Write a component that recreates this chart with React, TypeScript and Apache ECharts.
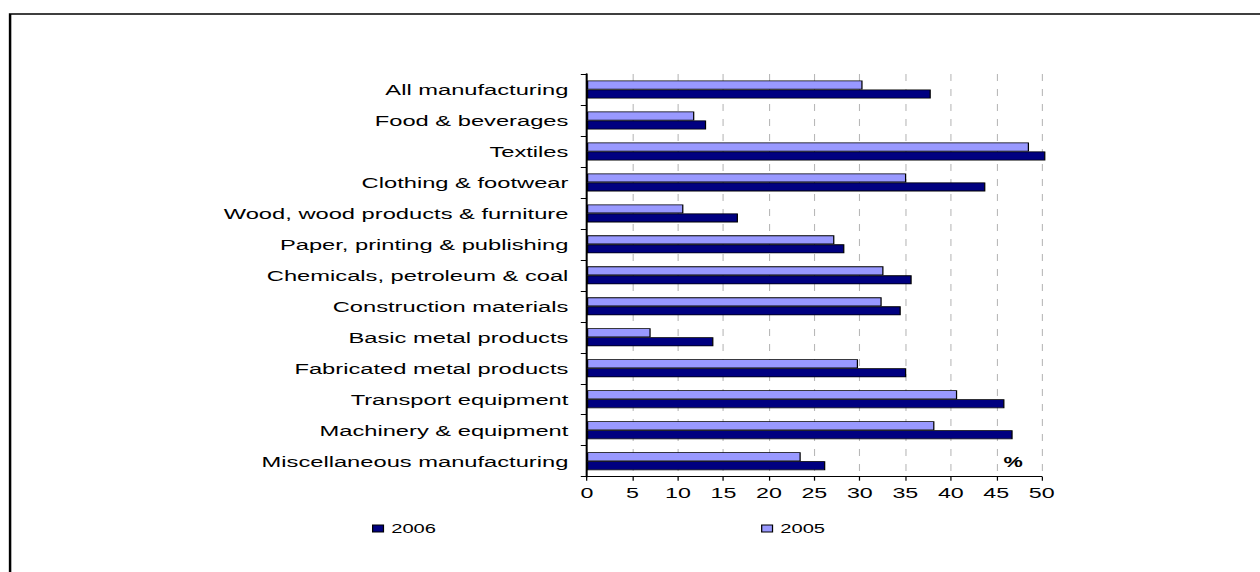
import React, { useEffect, useRef } from "react";
import * as echarts from "echarts";

const categories = [
  "All manufacturing",
  "Food & beverages",
  "Textiles",
  "Clothing & footwear",
  "Wood, wood products & furniture",
  "Paper, printing & publishing",
  "Chemicals, petroleum & coal",
  "Construction materials",
  "Basic metal products",
  "Fabricated metal products",
  "Transport equipment",
  "Machinery & equipment",
  "Miscellaneous manufacturing",
];

const values2005 = [30.3, 11.8, 48.6, 35.1, 10.6, 27.2, 32.6, 32.4, 7.0, 29.8, 40.7, 38.2, 23.5];
const values2006 = [37.8, 13.1, 50.4, 43.8, 16.6, 28.3, 35.7, 34.5, 13.9, 35.1, 45.9, 46.8, 26.2];

const STRETCH = 1.55;
const BASE_W = 1260 / STRETCH;
const FONT = "'Liberation Sans', Arial, sans-serif";

export default function App() {
  const ref = useRef<HTMLDivElement>(null);
  useEffect(() => {
    const chart = echarts.init(ref.current!, null, { renderer: "svg" });
    chart.setOption({
      animation: false,
      backgroundColor: "#ffffff",
      textStyle: { fontFamily: FONT },
      grid: { left: 378.7, top: 74, width: 293.4, height: 402.7, containLabel: false },
      legend: [
        {
          data: ["2006"],
          left: 235,
          top: 517,
          icon: "rect",
          itemWidth: 7,
          itemHeight: 7,
          selectedMode: false,
          itemStyle: { borderColor: "#000", borderWidth: 0.8 },
          textStyle: { fontSize: 13, color: "#000", fontFamily: FONT },
        },
        {
          data: ["2005"],
          left: 486,
          top: 517,
          icon: "rect",
          itemWidth: 7,
          itemHeight: 7,
          selectedMode: false,
          itemStyle: { borderColor: "#000", borderWidth: 0.8 },
          textStyle: { fontSize: 13, color: "#000", fontFamily: FONT },
        },
      ],
      xAxis: {
        type: "value",
        min: 0,
        max: 50,
        interval: 5,
        axisLine: { show: true, lineStyle: { color: "#000", width: 1 } },
        axisTick: { show: true, length: 4, lineStyle: { color: "#000", width: 0.8 } },
        splitLine: { show: true, lineStyle: { color: "#b8b8b8", width: 0.7, type: [7, 8] } },
        axisLabel: { fontSize: 15, color: "#000", margin: 8, fontFamily: FONT },
      },
      yAxis: {
        type: "category",
        data: categories,
        inverse: true,
        axisLine: { show: true, lineStyle: { color: "#000", width: 1.3 } },
        axisTick: { show: true, length: 4, lineStyle: { color: "#000", width: 1 } },
        axisLabel: { fontSize: 15.3, color: "#000", margin: 12, fontFamily: FONT },
      },
      series: [
        {
          name: "2005",
          type: "bar",
          data: values2005,
          barWidth: 9,
          barGap: "0%",
          clip: false,
          itemStyle: { color: "#9999FF", borderColor: "#000", borderWidth: 0.8 },
        },
        {
          name: "2006",
          type: "bar",
          data: values2006,
          barWidth: 9,
          barGap: "0%",
          clip: false,
          itemStyle: { color: "#000080", borderColor: "#000", borderWidth: 0.8 },
        },
      ],
      graphic: [
        {
          type: "rect",
          silent: true,
          shape: { x: 6.5, y: 14, width: 1000, height: 1000 },
          style: { fill: "none", stroke: "#000", lineWidth: 1.6 },
        },
        {
          type: "text",
          silent: true,
          x: 653.7,
          y: 462,
          style: {
            text: "%",
            fontSize: 14,
            fontWeight: "bold",
            fontFamily: FONT,
            fill: "#000",
            align: "center",
            verticalAlign: "middle",
          },
        },
      ],
    });
    return () => chart.dispose();
  }, []);
  return (
    <div
      style={{
        position: "absolute",
        left: 0,
        top: 0,
        width: 1260,
        height: 572,
        overflow: "hidden",
        background: "#fff",
      }}
    >
      <div
        ref={ref}
        style={{ width: BASE_W, height: 572, transform: `scaleX(${STRETCH})`, transformOrigin: "0 0" }}
      />
    </div>
  );
}
